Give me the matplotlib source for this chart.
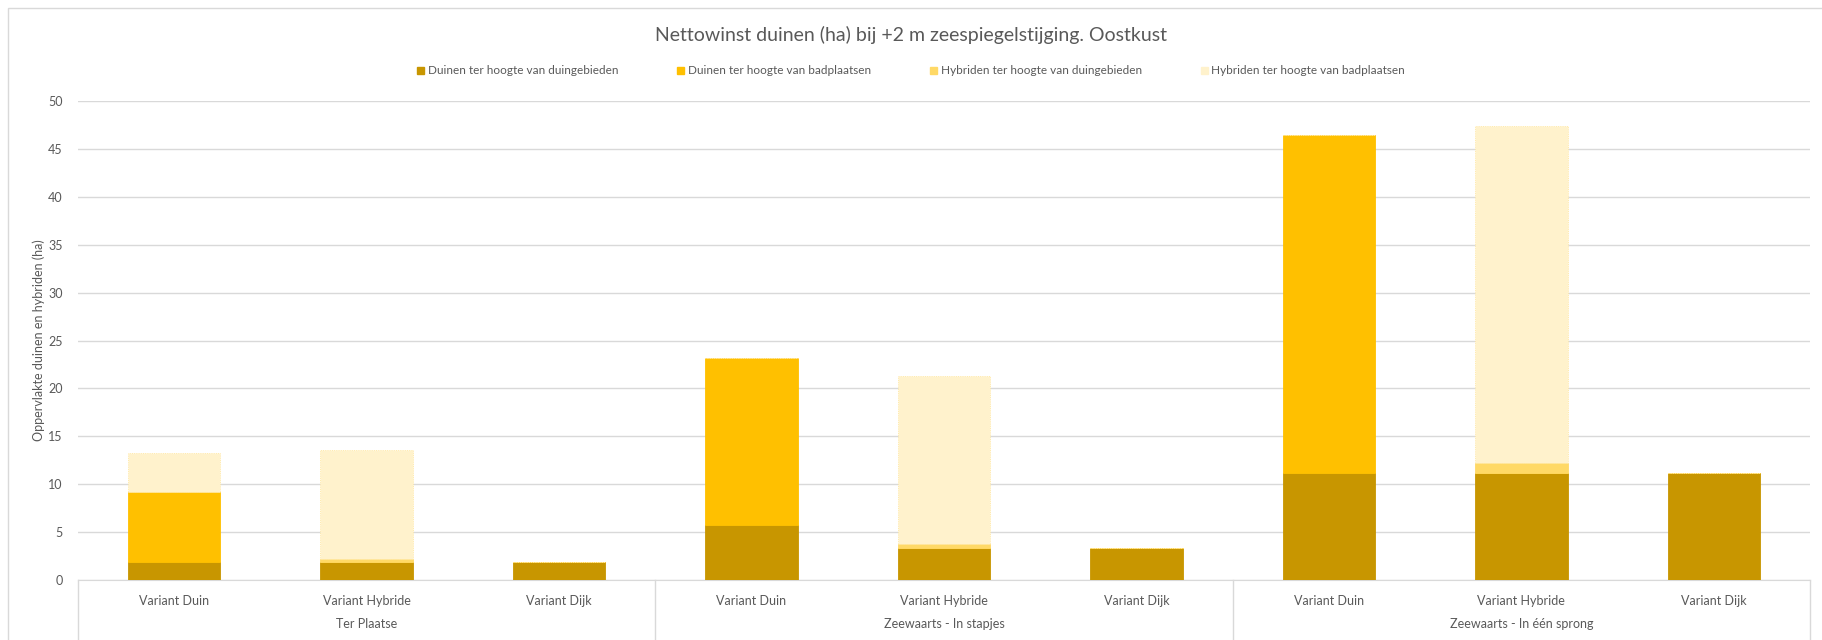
import matplotlib
matplotlib.use("Agg")
import matplotlib.pyplot as plt
from matplotlib.lines import Line2D
from matplotlib.patches import Rectangle
import numpy as np

plt.rcParams['font.family'] = ['Liberation Sans Narrow', 'Lato', 'DejaVu Sans']

# Data (ha)
groups = ["Ter Plaatse", "Zeewaarts - In stapjes", "Zeewaarts - In één sprong"]
variants = ["Variant Duin", "Variant Hybride", "Variant Dijk"]

duinen_duingebieden = [1.9, 1.9, 1.9, 5.75, 3.3, 3.3, 11.2, 11.2, 11.2]
duinen_badplaatsen = [7.3, 0, 0, 17.45, 0, 0, 35.2, 0, 0]
hybriden_duingebieden = [0, 0.28, 0, 0, 0.5, 0, 0, 0.97, 0]
hybriden_badplaatsen = [4.1, 11.4, 0, 0, 17.5, 0, 0, 35.2, 0]

series = [
    ("Duinen ter hoogte van duingebieden", duinen_duingebieden, "#C89600", "#C89600"),
    ("Duinen ter hoogte van badplaatsen", duinen_badplaatsen, "#FFC000", "#FFC000"),
    ("Hybriden ter hoogte van duingebieden", hybriden_duingebieden, "#FFD966", "#FFD966"),
    ("Hybriden ter hoogte van badplaatsen", hybriden_badplaatsen, "#FFF2CC", "#FFE699"),
]

W, H = 1822, 640
fig = plt.figure(figsize=(W / 100, H / 100), dpi=100)
ax = fig.add_axes([78 / W, 1 - 580 / H, (1810 - 78) / W, (580 - 101) / H])

n = len(groups) * len(variants)
x = np.arange(n)
bottom = np.zeros(n)
handles = []
for name, vals, color, edge in series:
    vals = np.array(vals, dtype=float)
    ls = ':' if color == "#FFF2CC" else '-'
    ax.bar(x, vals, width=0.48, bottom=bottom, color=color, edgecolor=edge,
           linewidth=0.6, linestyle=ls, zorder=3)
    bottom += vals
    handles.append(Rectangle((0, 0), 1, 1, color=color))

ax.set_xlim(-0.5, n - 0.5)
ax.set_ylim(0, 50)
ax.set_yticks(np.arange(0, 51, 5))
ax.yaxis.grid(True, color="#D9D9D9", linewidth=1, zorder=0)
ax.set_axisbelow(True)
for s in ["left", "right", "top"]:
    ax.spines[s].set_visible(False)
ax.spines["bottom"].set_color("#D9D9D9")
ax.tick_params(axis="y", length=0, labelsize=9, colors="#595959", pad=11)
ax.tick_params(axis="x", length=0, labelbottom=False)
ax.set_ylabel("Oppervlakte duinen en hybriden (ha)", fontsize=9, color="#595959")
ax.yaxis.set_label_coords((45 - 78) / (1810 - 78), 0.5)

# multi-level category axis
trans = ax.get_xaxis_transform()
for i in range(n):
    ax.text(x[i], -21 / 479, variants[i % 3], transform=trans, ha="center",
            va="center", fontsize=9, color="#595959")
for g, name in enumerate(groups):
    ax.text(3 * g + 1, -44 / 479, name, transform=trans, ha="center", va="center",
            fontsize=9, color="#595959")
for b in np.arange(-0.5, n, 3):
    ax.add_line(Line2D([b, b], [0, -60 / 479], transform=trans, color="#D9D9D9",
                       linewidth=1, clip_on=False))

fig.suptitle("Nettowinst duinen (ha) bij +2 m zeespiegelstijging. Oostkust",
             y=1 - 35 / H, fontsize=14, color="#595959", va="center")
fig.legend(handles, [s[0] for s in series], loc="center", ncol=4,
           bbox_to_anchor=(0.5, 1 - 71 / H), frameon=False, fontsize=8.5,
           handlelength=0.6, handleheight=0.6, handletextpad=0.3, columnspacing=5,
           labelcolor="#595959")

# chart border
fig.add_artist(Rectangle((8 / W, -0.1), 1.1, 1.1 - 8 / H, transform=fig.transFigure,
                         fill=False, edgecolor="#D9D9D9", linewidth=1))

fig.savefig("out.png", dpi=100)
